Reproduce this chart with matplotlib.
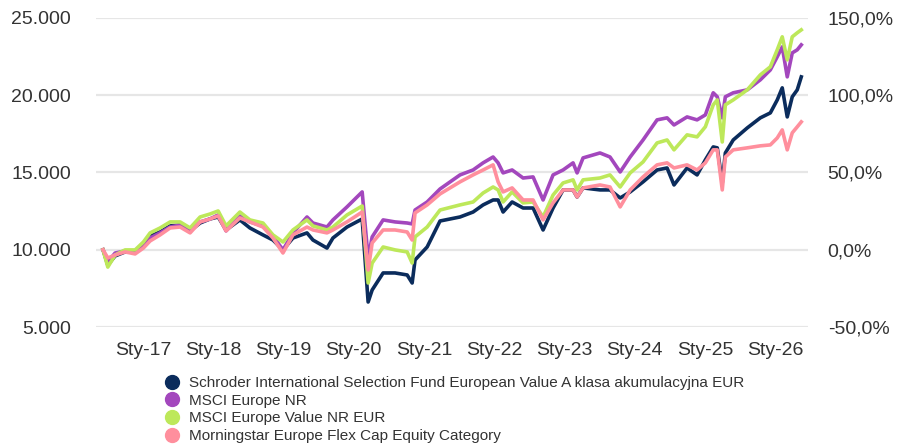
import pandas as pd
import matplotlib
matplotlib.use("Agg")
import matplotlib.pyplot as plt
from matplotlib.lines import Line2D
from matplotlib.ticker import FuncFormatter

plt.rcParams['font.family'] = ['Liberation Sans', 'DejaVu Sans']

# daty
dates = pd.to_datetime([
    '2016-06-06', '2016-07-01', '2016-08-08', '2016-09-29', '2016-11-20',
    '2017-01-02', '2017-02-06', '2017-03-30', '2017-05-21', '2017-07-12',
    '2017-09-02', '2017-10-24', '2017-12-14', '2018-01-26', '2018-03-08',
    '2018-05-19', '2018-07-10', '2018-09-16', '2018-11-07', '2018-12-29',
    '2019-02-19', '2019-05-03', '2019-06-03', '2019-08-15', '2019-09-15',
    '2019-11-27', '2020-02-14', '2020-03-16', '2020-04-06', '2020-06-02',
    '2020-08-03', '2020-10-05', '2020-10-31', '2020-11-15', '2021-01-17',
    '2021-03-25', '2021-07-07', '2021-09-13', '2021-11-04', '2021-12-26',
    '2022-01-21', '2022-02-16', '2022-04-04', '2022-05-31', '2022-07-22',
    '2022-09-12', '2022-11-03', '2022-12-25', '2023-02-15', '2023-03-08',
    '2023-04-08', '2023-07-05', '2023-08-26', '2023-10-18', '2023-12-09',
    '2024-02-14', '2024-04-27', '2024-06-18', '2024-07-24', '2024-09-30',
    '2024-11-21', '2025-01-03', '2025-02-13', '2025-03-06', '2025-04-01',
    '2025-04-17', '2025-05-28', '2025-08-09', '2025-10-16', '2025-12-07',
    '2026-01-12', '2026-02-07', '2026-03-05', '2026-03-31', '2026-04-26',
    '2026-05-17',
])

fund = [
    10000, 9010, 9600, 9860, 9860, 10310, 10890, 11150, 11540, 11600,
    11220, 11730, 11990, 12120, 11280, 11930, 11410, 10960, 10630, 9990,
    10760, 11090, 10630, 10110, 10760, 11470, 11990, 6620, 7400, 8500,
    8500, 8370, 7850, 9340, 10180, 11860, 12120, 12440, 12900, 13220,
    13220, 12440, 13090, 12700, 12700, 11280, 12700, 13870, 13870, 13410,
    14000, 13870, 13870, 13350, 13740, 14390, 15160, 15290, 14190, 15290,
    14840, 15810, 16650, 16590, 14320, 16260, 17100, 17880, 18530, 18850,
    19690, 20470, 18590, 19890, 20340, 21180,
]

msci_europe = [
    10000, 9210, 9790, 9920, 9920, 10240, 10760, 11090, 11470, 11600,
    11280, 11800, 11990, 12250, 11220, 12190, 11800, 11540, 10890, 9990,
    11090, 12120, 11730, 11470, 11930, 12770, 13740, 9470, 10830, 11930,
    11800, 11730, 11670, 12570, 13090, 13930, 14840, 15160, 15620, 16000,
    15620, 14970, 15160, 14640, 14710, 13220, 14840, 15160, 15620, 14970,
    15940, 16260, 16000, 15030, 16000, 17100, 18400, 18530, 18070, 18590,
    18400, 18720, 20150, 19890, 18530, 19890, 20150, 20340, 20990, 21630,
    22480, 23120, 21180, 22730, 22930, 23250,
]

msci_value = [
    10000, 8880, 9660, 9990, 9990, 10500, 11090, 11410, 11800, 11800,
    11410, 12120, 12310, 12510, 11540, 12440, 11930, 11730, 10960, 10500,
    11280, 11930, 11540, 11280, 11470, 12250, 12830, 7850, 9140, 10180,
    9990, 9860, 9140, 10830, 11470, 12570, 12900, 13090, 13670, 14060,
    13870, 13090, 13740, 13030, 13090, 12120, 13540, 14320, 14520, 13870,
    14520, 14640, 14840, 14060, 14970, 15680, 16910, 17100, 16460, 17430,
    17300, 17950, 19370, 19690, 16970, 19370, 19690, 20340, 21310, 21830,
    22930, 23770, 22280, 23770, 24030, 24220,
]

category = [
    10000, 9470, 9660, 9860, 9730, 10110, 10570, 10960, 11410, 11470,
    11090, 11800, 11990, 12190, 11220, 12060, 11800, 11470, 10760, 9790,
    10960, 11470, 11280, 11090, 11280, 11800, 12440, 8690, 10440, 11280,
    11280, 11150, 10630, 12380, 12900, 13610, 14390, 14840, 15160, 15490,
    14390, 13740, 14000, 13220, 13220, 11930, 13030, 13870, 13870, 13410,
    14000, 14190, 14060, 12770, 13870, 14710, 15490, 15620, 15290, 15490,
    15160, 15620, 16460, 16460, 13870, 16000, 16460, 16590, 16720, 16780,
    17230, 17750, 16460, 17560, 17950, 18270,
]

labels = [
    'Schroder International Selection Fund European Value A klasa akumulacyjna EUR',
    'MSCI Europe NR',
    'MSCI Europe Value NR EUR',
    'Morningstar Europe Flex Cap Equity Category',
]
colors = ['#0b2c5c', '#a347bd', '#bde85a', '#ff8f9d']
series = [fund, msci_europe, msci_value, category]

fig = plt.figure(figsize=(8.98, 4.45), dpi=100)
ax = fig.add_axes([0.107, 0.265, 0.793, 0.695])

for vals, c in zip(series, colors):
    ax.plot(dates, vals, color=c, lw=2.6, solid_joinstyle='round')

ax.set_ylim(5000, 25000)
ax.set_yticks([5000, 10000, 15000, 20000, 25000])
ax.yaxis.set_major_formatter(FuncFormatter(lambda v, p: f"{v:,.0f}".replace(",", ".")))
ax.set_xlim(pd.Timestamp('2016-05-01'), pd.Timestamp('2026-06-22'))
years = pd.to_datetime([f'{y}-01-01' for y in range(2017, 2027)])
ax.set_xticks(years)
ax.set_xticklabels([f"Sty-{str(y)[2:]}" for y in range(2017, 2027)])

ax.grid(axis='y', color='#e6e6e6', lw=1.6)
ax.set_axisbelow(True)
for s in ax.spines.values():
    s.set_visible(False)
ax.axhline(5000, color='#cccccc', lw=1.8, zorder=0.5)
ax.tick_params(axis='both', length=0, labelsize=14, colors='#333333')
ax.tick_params(axis='y', pad=18)
ax.tick_params(axis='x', pad=11)

ax2 = ax.twinx()
ax2.set_ylim(-50, 150)
ax2.set_yticks([-50, 0, 50, 100, 150])
ax2.yaxis.set_major_formatter(FuncFormatter(lambda v, p: f"{v:.1f}%".replace(".", ",")))
ax2.tick_params(axis='y', length=0, labelsize=14, colors='#333333', pad=14)
for s in ax2.spines.values():
    s.set_visible(False)

handles = [Line2D([], [], ls='none', marker='o', markersize=10, color=c) for c in colors]
fig.legend(handles, labels, loc='upper left', bbox_to_anchor=(0.176, 0.172),
           frameon=False, fontsize=11, handlelength=0.8, handletextpad=0.75,
           labelspacing=0.24, borderpad=0, labelcolor='#333333')

fig.savefig('out.png', dpi=100)
